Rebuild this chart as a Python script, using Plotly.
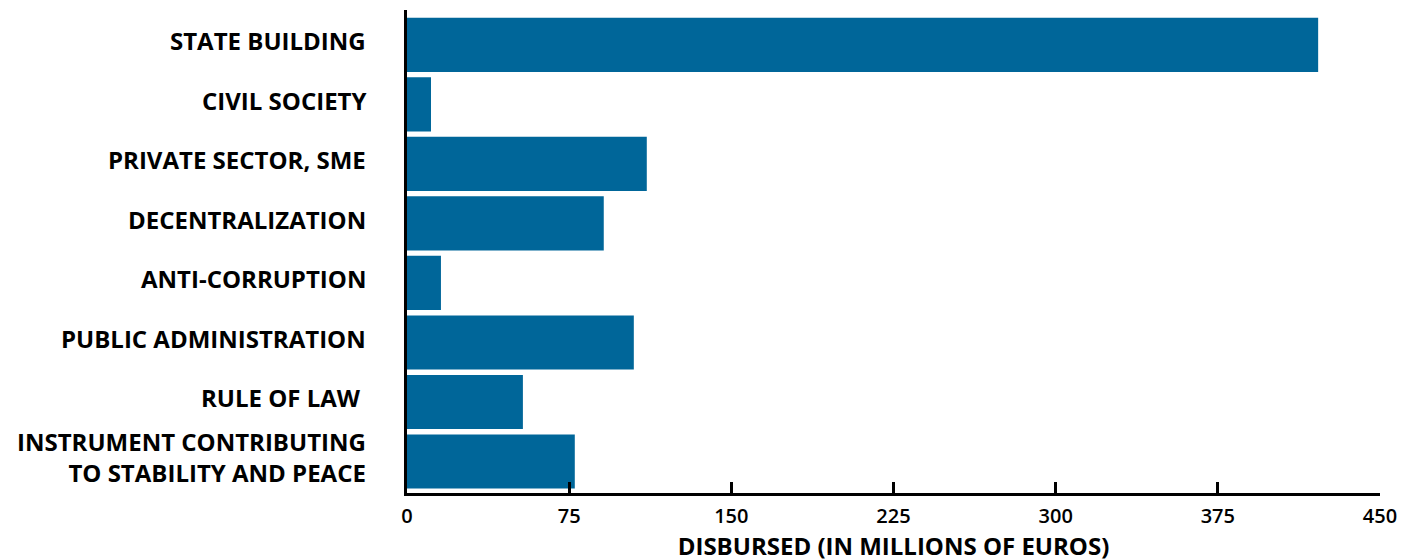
import plotly.graph_objects as go

categories = [
    "STATE BUILDING",
    "CIVIL SOCIETY",
    "PRIVATE SECTOR, SME",
    "DECENTRALIZATION",
    "ANTI-CORRUPTION",
    "PUBLIC ADMINISTRATION",
    "RULE OF LAW\u00a0",
    "INSTRUMENT CONTRIBUTING<br>TO STABILITY AND PEACE",
]
values = [421.4, 11.1, 110.9, 91.0, 15.7, 104.9, 53.6, 77.6]
x_ticks = [0, 75, 150, 225, 300, 375, 450]

fig = go.Figure(go.Bar(
    y=categories, x=values, orientation="h",
    marker=dict(color="#006699", line=dict(width=0)),
))

# category labels as annotations so they can sit slightly above bar centres
for cat in categories:
    fig.add_annotation(
        xref="paper", x=0, y=cat, yref="y",
        text=cat, showarrow=False, xanchor="right", align="right",
        xshift=-39, yshift=4,
        font=dict(size=24, family="Open Sans", weight="bold", color="black"),
    )

# page body has an 8px margin, so plot area is shifted by that amount
fig.update_layout(
    width=1413, height=560,
    margin=dict(l=399, r=41, t=2, b=75),
    plot_bgcolor="white", paper_bgcolor="white",
    bargap=0.09,
    showlegend=False,
    font=dict(family="Open Sans", color="black"),
)
fig.update_xaxes(
    range=[0, 450], tickvals=x_ticks, ticktext=[str(v) for v in x_ticks],
    showgrid=False, zeroline=False,
    showline=True, linecolor="black", linewidth=3,
    ticks="inside", ticklen=11, tickwidth=3, tickcolor="black",
    ticklabelstandoff=3,
    tickfont=dict(size=20, family="Open Sans", weight=600),
    title=dict(text="<b>DISBURSED (IN MILLIONS OF EUROS)</b>", font=dict(size=24), standoff=11),
)
fig.update_yaxes(
    categoryorder="array", categoryarray=categories,
    range=[7.53, -0.587],
    showgrid=False, zeroline=False,
    showline=True, linecolor="black", linewidth=3,
    ticks="", showticklabels=False,
)

fig.write_html("out.html")
